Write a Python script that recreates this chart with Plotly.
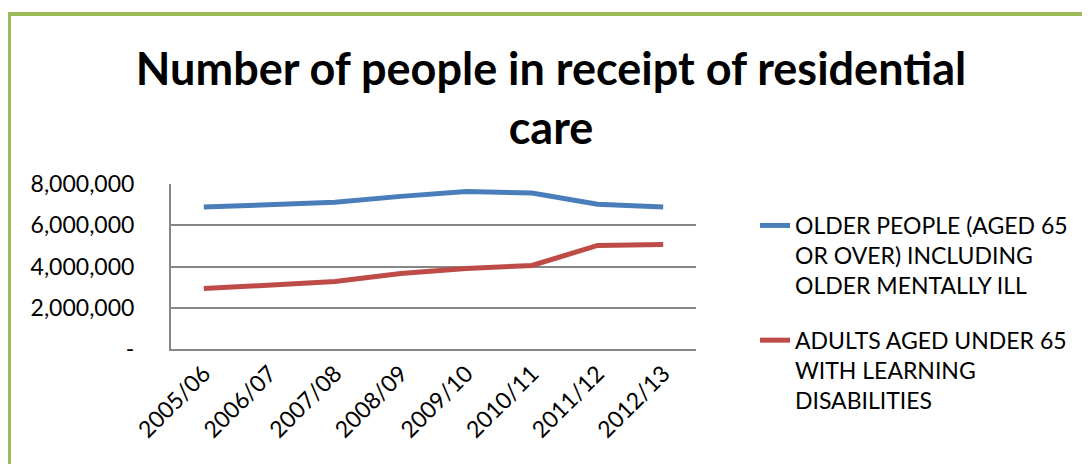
import plotly.graph_objects as go

categories = ["2005/06", "2006/07", "2007/08", "2008/09", "2009/10", "2010/11", "2011/12", "2012/13"]
older_people = [6880000, 7000000, 7120000, 7400000, 7640000, 7560000, 7020000, 6880000]
adults_ld = [2930000, 3100000, 3270000, 3660000, 3900000, 4050000, 5020000, 5070000]
series_names = [
    "OLDER PEOPLE (AGED 65<br>OR OVER) INCLUDING<br>OLDER MENTALLY ILL",
    "ADULTS AGED UNDER 65<br>WITH LEARNING<br>DISABILITIES",
]
y_tickvals = [0, 2000000, 4000000, 6000000, 8000000]
y_ticktext = ["-", "2,000,000", "4,000,000", "6,000,000", "8,000,000"]

OFF = 8  # page body margin
W, H = 1090 - OFF, 464 - OFF
L, R, T, B = 171 - OFF, 696 - OFF, 184 - OFF, 349 - OFF

fig = go.Figure()
fig.add_trace(go.Scatter(x=categories, y=older_people, mode="lines", name=series_names[0],
                         legendgroup="a", line=dict(color="#4A7EBB", width=5)))
fig.add_trace(go.Scatter(x=categories, y=adults_ld, mode="lines", name=series_names[1],
                         legendgroup="b", line=dict(color="#BE4B48", width=5)))

def px_x(px):
    return (px - OFF - L) / (R - L)

def px_y(py):
    return (B - (py - OFF)) / (B - T)

fig.add_shape(type="rect", xref="paper", yref="paper",
              x0=px_x(9), x1=px_x(1087),
              y0=px_y(490), y1=px_y(14),
              line=dict(color="#9BBB59", width=4), fillcolor="rgba(0,0,0,0)", layer="below")

font_family = "Lato, 'Open Sans', sans-serif"
fig.update_layout(
    width=W, height=H,
    margin=dict(l=L, r=W - R, t=T, b=H - B, pad=0),
    paper_bgcolor="white", plot_bgcolor="white",
    title=dict(text="<b>Number of people in receipt of residential<br>care</b>",
               x=px_x(551), xref="paper", xanchor="center",
               y=1 - (85 - OFF) / H, yanchor="middle",
               font=dict(family=font_family, size=45, color="black")),
    font=dict(family=font_family, size=23, color="black"),
    showlegend=True,
    legend=dict(x=px_x(755), xanchor="left", y=px_y(204), yanchor="top",
                font=dict(family=font_family, size=23, color="black"),
                bgcolor="rgba(0,0,0,0)", tracegroupgap=22, valign="top",
                maxheight=400),
    xaxis=dict(type="category", showgrid=False, showline=True, linecolor="#868686", linewidth=2,
               tickangle=-45, ticks="", tickfont=dict(size=23), range=[-0.5, 7.5]),
    yaxis=dict(range=[0, 8000000], tickvals=y_tickvals, ticktext=y_ticktext,
               showgrid=True, gridcolor="#868686", gridwidth=1.5, showline=True,
               linecolor="#868686", linewidth=2, ticks="", zeroline=False,
               ticklabelstandoff=30, tickfont=dict(size=23)),
)

fig.write_html("out.html")
